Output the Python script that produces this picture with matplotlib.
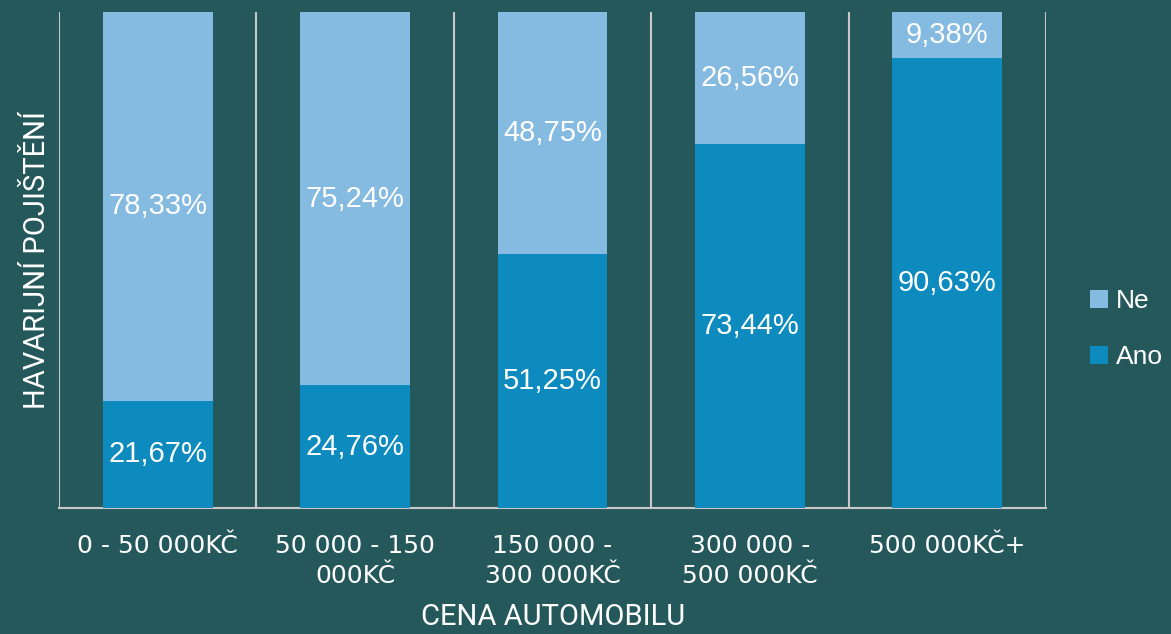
import matplotlib
matplotlib.use("Agg")
import matplotlib.pyplot as plt
import numpy as np

categories = ["0 - 50 000KČ", "50 000 - 150\n000KČ", "150 000 -\n300 000KČ",
              "300 000 -\n500 000KČ", "500 000KČ+"]
ano = [21.67, 24.76, 51.25, 73.44, 90.63]
ne = [78.33, 75.24, 48.75, 26.56, 9.38]

bg = "#25585A"
c_ano = "#0E8BBE"
c_ne = "#85BAE1"
grid_c = "#C8C8C8"

fig = plt.figure(figsize=(11.71, 6.34), dpi=100, facecolor=bg)
ax = fig.add_axes([59/1171, 1-508/634, (1046-59)/1171, (508-12)/634])
ax.set_facecolor(bg)

x = np.arange(len(categories))
w = 0.557
b1 = ax.bar(x, ano, width=w, color=c_ano, label="Ano", zorder=3)
b2 = ax.bar(x, ne, width=w, bottom=ano, color=c_ne, label="Ne", zorder=3)

lab_font = dict(family=["Liberation Sans", "DejaVu Sans"], fontsize=21, color="white")
for i in range(len(categories)):
    ax.text(x[i], ano[i]/2, f"{ano[i]:.2f}%".replace(".", ","), ha="center", va="center", zorder=4, **lab_font)
    ax.text(x[i], ano[i] + ne[i]/2, f"{ne[i]:.2f}%".replace(".", ","), ha="center", va="center", zorder=4, **lab_font)

ax.set_xlim(-0.5, len(categories) - 0.5)
ax.set_ylim(0, 100)
for b in np.arange(-0.5, len(categories), 1.0):
    ax.axvline(b, color=grid_c, lw=1.5, zorder=1)

for s in ["top", "right", "left"]:
    ax.spines[s].set_visible(False)
ax.spines["bottom"].set_color(grid_c)
ax.spines["bottom"].set_linewidth(1.5)
ax.set_yticks([])
ax.set_xticks(x)
ax.set_xticklabels(categories, family=["DejaVu Sans"], fontsize=18, color="white", linespacing=1.27)
ax.tick_params(axis="x", length=0, pad=19)

fig.text(37/1171, 1-260/634, "HAVARIJNÍ POJIŠTĚNÍ", rotation=90, ha="center", va="center",
         family=["Roboto", "DejaVu Sans"], fontsize=21, color="white")
fig.text(553/1171, 1-617/634, "CENA AUTOMOBILU", ha="center", va="center",
         family=["Roboto", "DejaVu Sans"], fontsize=21, color="white")

handles = [b2, b1]
leg = fig.legend(handles, ["Ne", "Ano"], loc="center left", bbox_to_anchor=(1090/1171, 1-329/634),
                 frameon=False, handlelength=0.68, handleheight=0.68, handletextpad=0.3,
                 labelspacing=1.2, borderaxespad=0, borderpad=0,
                 prop={"family": ["Liberation Sans", "DejaVu Sans"], "size": 19})
for t in leg.get_texts():
    t.set_color("white")

fig.savefig("out.png", dpi=100, facecolor=bg)
